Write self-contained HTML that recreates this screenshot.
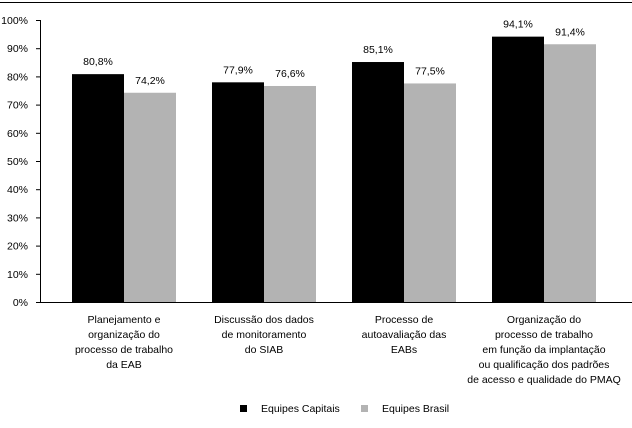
<!DOCTYPE html>
<html><head><meta charset="utf-8"><style>
html,body{margin:0;padding:0;background:#fff;}
svg{display:block;font-family:"Liberation Sans",sans-serif;}
</style></head><body>
<svg id="chart" width="632" height="428" viewBox="0 0 632 428">
<line x1="0" y1="2.5" x2="632" y2="2.5" stroke="#000" stroke-width="1"/>
<g id="axes"></g><g id="bars"></g><g id="labels"></g>
<g>
<rect x="240" y="405" width="7" height="7" fill="#000"/>
<text x="261" y="412" font-size="10.5">Equipes Capitais</text>
<rect x="361" y="405" width="7" height="7" fill="#b3b3b3"/>
<text x="382" y="412" font-size="10.5">Equipes Brasil</text>
</g>
</svg>
<script>
const categories=[["Planejamento e","organização do","processo de trabalho","da EAB"],["Discussão dos dados","de monitoramento","do SIAB"],["Processo de","autoavaliação das","EABs"],["Organização do","processo de trabalho","em função da implantação","ou qualificação dos padrões","de acesso e qualidade do PMAQ"]];
const capitais=[80.8,77.9,85.1,94.1];
const brasil=[74.2,76.6,77.5,91.4];
const capitaisLabels=["80,8%","77,9%","85,1%","94,1%"];
const brasilLabels=["74,2%","76,6%","77,5%","91,4%"];
const ticks=[0,10,20,30,40,50,60,70,80,90,100];
const NS="http://www.w3.org/2000/svg";
const y=v=>302-v*2.82;
const xc=i=>124+i*140;
const bw=52;
function mk(tag,attrs,parent){const e=document.createElementNS(NS,tag);for(const k in attrs)e.setAttribute(k,attrs[k]);parent.appendChild(e);return e;}
const ax=document.getElementById('axes'),bars=document.getElementById('bars'),lab=document.getElementById('labels');
let yl=mk('line',{x1:40.5,y1:20,x2:40.5,y2:302,stroke:'#000','stroke-width':1},ax);


let xl=mk('line',{x1:40,y1:302.5,x2:632,y2:302.5,stroke:'#000','stroke-width':1},ax);


ticks.forEach(t=>{
 let tk=mk('line',{x1:36,y1:y(t)+0.5,x2:40,y2:y(t)+0.5,stroke:'#000'},ax);
 
 
 let tx=mk('text',{x:28,y:y(t)+4,'font-size':10.5,'text-anchor':'end'},ax);
 tx.textContent=t+'%';
 
 
});
categories.forEach((c,i)=>{
 let b1=mk('rect',{x:xc(i)-bw,y:y(capitais[i]),width:bw,height:302-y(capitais[i]),fill:'#000'},bars);
 
 
 let b2=mk('rect',{x:xc(i),y:y(brasil[i]),width:bw,height:302-y(brasil[i]),fill:'#b3b3b3'},bars);
 
 
 let t1=mk('text',{x:xc(i)-bw/2,y:y(capitais[i])-9,'font-size':10.5,'text-anchor':'middle'},lab);
 t1.textContent=capitaisLabels[i];
 
 
 let t2=mk('text',{x:xc(i)+bw/2,y:y(brasil[i])-9,'font-size':10.5,'text-anchor':'middle'},lab);
 t2.textContent=brasilLabels[i];
 
 
 c.forEach((line,j)=>{
  let ct=mk('text',{x:xc(i),y:323+j*15,'font-size':10.5,'text-anchor':'middle'},lab);
  ct.textContent=line;
  
  
 });
});
</script>
</body></html>
